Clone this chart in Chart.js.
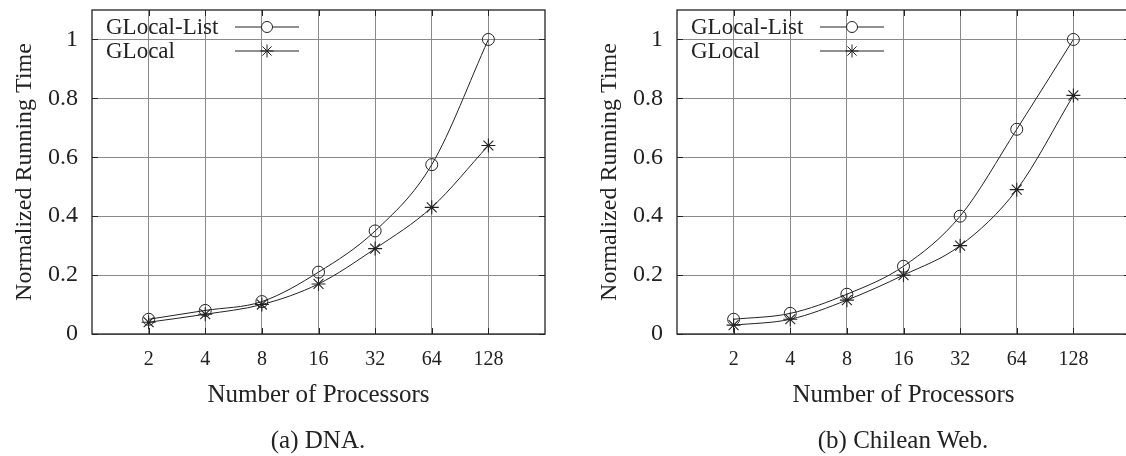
<!DOCTYPE html>
<html>
<head>
<meta charset="utf-8">
<script src="https://cdn.jsdelivr.net/npm/chart.js@4.4.1/dist/chart.umd.min.js"></script>
<style>
  html, body { margin: 0; padding: 0; background: #fff; overflow: hidden; }
  body { width: 1126px; height: 456px; position: relative; }
  .box { position: absolute; top: 0; }
  .caption { position: absolute; top: 426px; font-family: "Liberation Serif", serif; font-size: 25px; color: #222; text-align: center; }
</style>
</head>
<body>
<div class="box" style="left:0px"><canvas id="dna" width="563" height="456"></canvas></div>
<div class="box" style="left:585px"><canvas id="web" width="563" height="456"></canvas></div>
<div class="caption" style="left:218px; width:200px">(a) DNA.</div>
<div class="caption" style="left:803px; width:200px">(b) Chilean Web.</div>
<script>
// number of processors
var processors = [2, 4, 8, 16, 32, 64, 128];
var yTicks = [0, 0.2, 0.4, 0.6, 0.8, 1];
var seriesNames = ["GLocal-List", "GLocal"];

// (a) DNA
var dnaList  = [0.05, 0.08, 0.11, 0.21, 0.35, 0.575, 1.0];
var dnaLocal = [0.04, 0.067, 0.10, 0.17, 0.29, 0.43, 0.64];

// (b) Chilean Web
var webList  = [0.05, 0.07, 0.135, 0.23, 0.40, 0.695, 1.0];
var webLocal = [0.03, 0.05, 0.115, 0.20, 0.30, 0.49, 0.81];

var serif = "Liberation Serif";
var ink = "#222";

function points(values) {
    return processors.map(function (p, i) { return {x: p, y: values[i]}; });
}

// gnuplot style box: border on all sides, inward ticks, legend in the top left
var frame = {
    id: 'frame',
    afterDraw: function (chart) {
        var ctx = chart.ctx;
        var a = chart.chartArea;
        var xs = chart.scales.x, ys = chart.scales.y;
        ctx.save();
        ctx.strokeStyle = ink;
        ctx.lineWidth = 1.3;
        ctx.strokeRect(a.left, a.top, a.right - a.left, a.bottom - a.top);
        ctx.lineWidth = 1;
        ctx.beginPath();
        xs.ticks.forEach(function (t) {
            var px = Math.round(xs.getPixelForValue(t.value)) + 0.5;
            ctx.moveTo(px, a.bottom); ctx.lineTo(px, a.bottom - 6);
            ctx.moveTo(px, a.top); ctx.lineTo(px, a.top + 6);
        });
        ys.ticks.forEach(function (t) {
            var py = Math.round(ys.getPixelForValue(t.value)) + 0.5;
            ctx.moveTo(a.left, py); ctx.lineTo(a.left + 6, py);
            ctx.moveTo(a.right, py); ctx.lineTo(a.right - 6, py);
        });
        ctx.stroke();

        // legend
        ctx.font = "23px '" + serif + "'";
        ctx.textBaseline = 'middle';
        chart.data.datasets.forEach(function (ds, i) {
            var y = a.top + 17 + i * 24;
            ctx.fillStyle = ink;
            ctx.fillText(ds.label, a.left + 14, y + 1);
            ctx.beginPath();
            ctx.moveTo(a.left + 143, y); ctx.lineTo(a.left + 207, y);
            ctx.stroke();
            ctx.fillStyle = '#fff';
            Chart.helpers.drawPoint(ctx, {
                pointStyle: ds.pointStyle, radius: ds.pointRadius - 0.5, rotation: 0, borderWidth: 1
            }, a.left + 175, y);
        });
        ctx.restore();
    }
};

function makeChart(id, listValues, localValues) {
    return new Chart(document.getElementById(id), {
        type: 'line',
        data: {
            datasets: [{
                label: seriesNames[0],
                data: points(listValues),
                borderColor: ink,
                borderWidth: 1,
                pointStyle: 'circle',
                pointRadius: 6,
                pointBorderColor: ink,
                pointBackgroundColor: 'rgba(0,0,0,0)',
                pointBorderWidth: 1,
                cubicInterpolationMode: 'monotone'
            }, {
                label: seriesNames[1],
                data: points(localValues),
                borderColor: ink,
                borderWidth: 1,
                pointStyle: 'star',
                pointRadius: 7,
                pointBorderColor: ink,
                pointBorderWidth: 1.1,
                cubicInterpolationMode: 'monotone'
            }]
        },
        options: {
            responsive: false,
            animation: false,
            events: [],
            layout: { padding: { left: 0, right: 18, top: 10, bottom: 46 } },
            plugins: { legend: { display: false }, tooltip: { enabled: false } },
            scales: {
                x: {
                    type: 'logarithmic',
                    min: 1,
                    max: 256,
                    afterBuildTicks: function (s) {
                        s.ticks = processors.map(function (p) { return {value: p}; });
                    },
                    afterFit: function (s) {
                        s.height = 76;
                        s.paddingLeft = 0; s.paddingRight = 0;
                    },
                    ticks: {
                        callback: function (v) { return String(v); },
                        font: { family: serif, size: 20 },
                        color: ink,
                        padding: 14,
                        maxRotation: 0,
                        autoSkip: false
                    },
                    grid: { color: '#8a8a8a', borderDash: [1, 2], drawTicks: false, lineWidth: 1 },
                    border: { display: false },
                    title: {
                        display: true,
                        text: 'Number of Processors',
                        font: { family: serif, size: 25 },
                        color: ink,
                        padding: { top: 0, bottom: 0 }
                    }
                },
                y: {
                    min: 0,
                    max: 1.1,
                    afterBuildTicks: function (s) {
                        s.ticks = yTicks.map(function (v) { return {value: v}; });
                    },
                    afterFit: function (s) {
                        s.width = 92;
                        s.paddingTop = 0; s.paddingBottom = 0;
                    },
                    ticks: {
                        callback: function (v) { return String(v); },
                        font: { family: serif, size: 24 },
                        color: ink,
                        padding: 14
                    },
                    grid: { color: '#8a8a8a', borderDash: [1, 2], drawTicks: false, lineWidth: 1 },
                    border: { display: false },
                    title: {
                        display: true,
                        text: 'Normalized Running Time',
                        font: { family: serif, size: 24 },
                        color: ink,
                        padding: { top: 10, bottom: 0 }
                    }
                }
            }
        },
        plugins: [frame]
    });
}

makeChart('dna', dnaList, dnaLocal);
makeChart('web', webList, webLocal);
</script>
</body>
</html>
